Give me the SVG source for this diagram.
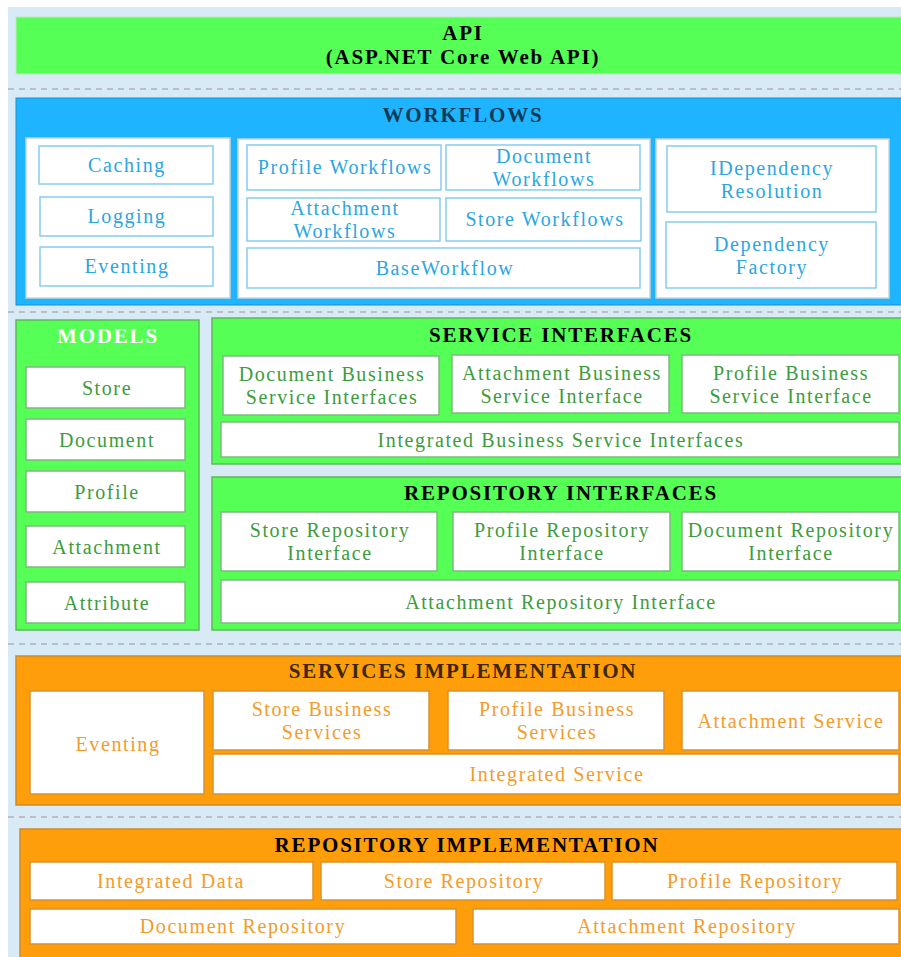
<svg xmlns="http://www.w3.org/2000/svg" width="901" height="957" viewBox="0 0 901 957">
<style>
.t{font-family:"Liberation Serif","Times New Roman",serif;font-size:20px;letter-spacing:1.6px;text-anchor:middle}
.h{font-family:"Liberation Serif","Times New Roman",serif;font-size:21px;font-weight:bold;letter-spacing:1.8px;text-anchor:middle}
.grn{fill:#55ff55;stroke:#5cb85c;stroke-width:1.5}
.blu{fill:#1fb4ff;stroke:#1a8fd0;stroke-width:1}
.org{fill:#ff9e0b;stroke:#d08a2a;stroke-width:1.5}
.panel{fill:#ffffff;stroke:#c5d3dc;stroke-width:1.5}
.bbox{fill:#ffffff;stroke:#86cdf0;stroke-width:1.5}
.gbox{fill:#ffffff;stroke:#7fb87f;stroke-width:1.5}
.obox{fill:#ffffff;stroke:#d9922e;stroke-width:1.5}
.bt{fill:#2aa6e2}
.gt{fill:#3c9c3c}
.ot{fill:#f49b2a}
.sep{stroke:#b9bfc4;stroke-width:2;stroke-dasharray:6 5;fill:none}
</style>
<rect x="0" y="0" width="901" height="957" fill="#ffffff"/>
<rect x="8" y="7" width="893" height="950" fill="#d8eaf6"/>
<g id="separators">
<line class="sep" x1="8" y1="89" x2="901" y2="89"/>
<line class="sep" x1="8" y1="312" x2="901" y2="312"/>
<line class="sep" x1="8" y1="644" x2="901" y2="644"/>
<line class="sep" x1="8" y1="817" x2="901" y2="817"/>
</g>
<g id="api">
<rect x="16" y="17" width="886" height="57" fill="#55ff55" stroke="#bfe8bf" stroke-width="1"/>
<text class="h" x="463" y="40" fill="#000">API</text>
<text class="h" x="463" y="64" fill="#000">(ASP.NET Core Web API)</text>
</g>
<g id="workflows">
<rect class="blu" x="16" y="98" width="886" height="207"/>
<text class="h" x="463" y="122" fill="#0d3a56">WORKFLOWS</text>
<rect class="panel" x="26" y="138" width="204" height="160"/>
<rect class="panel" x="238" y="139" width="412" height="159"/>
<rect class="panel" x="656" y="139" width="233" height="159"/>
<g id="caching"><rect class="bbox" x="39" y="146" width="174" height="38"/><text class="t bt" x="127" y="172">Caching</text></g>
<g id="logging"><rect class="bbox" x="40" y="197" width="173" height="39"/><text class="t bt" x="127" y="223">Logging</text></g>
<g id="eventing-wf"><rect class="bbox" x="40" y="247" width="173" height="39"/><text class="t bt" x="127" y="273">Eventing</text></g>
<g id="profile-workflows"><rect class="bbox" x="247" y="145" width="194" height="45"/><text class="t bt" x="345" y="174">Profile Workflows</text></g>
<g id="document-workflows"><rect class="bbox" x="446" y="145" width="194" height="45"/><text class="t bt" x="544" y="163">Document</text><text class="t bt" x="544" y="186">Workflows</text></g>
<g id="attachment-workflows"><rect class="bbox" x="247" y="198" width="193" height="43"/><text class="t bt" x="345" y="215">Attachment</text><text class="t bt" x="345" y="238">Workflows</text></g>
<g id="store-workflows"><rect class="bbox" x="446" y="198" width="195" height="43"/><text class="t bt" x="545" y="226">Store Workflows</text></g>
<g id="baseworkflow"><rect class="bbox" x="247" y="248" width="393" height="40"/><text class="t bt" x="445" y="275">BaseWorkflow</text></g>
<g id="idependency-resolution"><rect class="bbox" x="667" y="146" width="209" height="66"/><text class="t bt" x="772" y="175">IDependency</text><text class="t bt" x="772" y="198">Resolution</text></g>
<g id="dependency-factory"><rect class="bbox" x="666" y="222" width="210" height="66"/><text class="t bt" x="772" y="251">Dependency</text><text class="t bt" x="772" y="274">Factory</text></g>
</g>
<g id="models">
<rect class="grn" x="16" y="320" width="183" height="310"/>
<text class="h" x="108" y="343" fill="#ffffff">MODELS</text>
<g id="m-store"><rect class="gbox" x="26" y="367" width="159" height="41"/><text class="t gt" x="107" y="395">Store</text></g>
<g id="m-document"><rect class="gbox" x="26" y="419" width="159" height="41"/><text class="t gt" x="107" y="447">Document</text></g>
<g id="m-profile"><rect class="gbox" x="26" y="471" width="159" height="41"/><text class="t gt" x="107" y="499">Profile</text></g>
<g id="m-attachment"><rect class="gbox" x="26" y="526" width="159" height="41"/><text class="t gt" x="107" y="554">Attachment</text></g>
<g id="m-attribute"><rect class="gbox" x="26" y="582" width="159" height="41"/><text class="t gt" x="107" y="610">Attribute</text></g>
</g>
<g id="service-interfaces">
<rect class="grn" x="212" y="318" width="690" height="146"/>
<text class="h" x="561" y="342" fill="#000">SERVICE INTERFACES</text>
<g id="si-document"><rect class="gbox" x="223" y="356" width="216" height="59"/><text class="t gt" x="332" y="381">Document Business</text><text class="t gt" x="332" y="404">Service Interfaces</text></g>
<g id="si-attachment"><rect class="gbox" x="452" y="355" width="217" height="58"/><text class="t gt" x="562" y="380">Attachment Business</text><text class="t gt" x="562" y="403">Service Interface</text></g>
<g id="si-profile"><rect class="gbox" x="682" y="355" width="217" height="58"/><text class="t gt" x="791" y="380">Profile Business</text><text class="t gt" x="791" y="403">Service Interface</text></g>
<g id="si-integrated"><rect class="gbox" x="221" y="422" width="678" height="35"/><text class="t gt" x="561" y="447">Integrated Business Service Interfaces</text></g>
</g>
<g id="repository-interfaces">
<rect class="grn" x="212" y="477" width="690" height="153"/>
<text class="h" x="561" y="500" fill="#000">REPOSITORY INTERFACES</text>
<g id="ri-store"><rect class="gbox" x="221" y="512" width="216" height="59"/><text class="t gt" x="330" y="537">Store Repository</text><text class="t gt" x="330" y="560">Interface</text></g>
<g id="ri-profile"><rect class="gbox" x="453" y="512" width="217" height="59"/><text class="t gt" x="562" y="537">Profile Repository</text><text class="t gt" x="562" y="560">Interface</text></g>
<g id="ri-document"><rect class="gbox" x="682" y="512" width="217" height="59"/><text class="t gt" x="791" y="537">Document Repository</text><text class="t gt" x="791" y="560">Interface</text></g>
<g id="ri-attachment"><rect class="gbox" x="221" y="580" width="678" height="43"/><text class="t gt" x="561" y="609">Attachment Repository Interface</text></g>
</g>
<g id="services-implementation">
<rect class="org" x="16" y="656" width="886" height="149"/>
<text class="h" x="463" y="678" fill="#3d2600">SERVICES IMPLEMENTATION</text>
<g id="s-eventing"><rect class="obox" x="30" y="691" width="174" height="103"/><text class="t ot" x="118" y="751">Eventing</text></g>
<g id="s-store"><rect class="obox" x="213" y="691" width="216" height="59"/><text class="t ot" x="322" y="716">Store Business</text><text class="t ot" x="322" y="739">Services</text></g>
<g id="s-profile"><rect class="obox" x="448" y="691" width="216" height="59"/><text class="t ot" x="557" y="716">Profile Business</text><text class="t ot" x="557" y="739">Services</text></g>
<g id="s-attachment"><rect class="obox" x="682" y="691" width="217" height="59"/><text class="t ot" x="791" y="728">Attachment Service</text></g>
<g id="s-integrated"><rect class="obox" x="213" y="754" width="686" height="40"/><text class="t ot" x="557" y="781">Integrated Service</text></g>
</g>
<g id="repository-implementation">
<rect class="org" x="20" y="829" width="882" height="129"/>
<text class="h" x="467" y="852" fill="#000">REPOSITORY IMPLEMENTATION</text>
<g id="r-integrated"><rect class="obox" x="30" y="862" width="283" height="38"/><text class="t ot" x="171" y="888">Integrated Data</text></g>
<g id="r-store"><rect class="obox" x="321" y="862" width="284" height="38"/><text class="t ot" x="464" y="888">Store Repository</text></g>
<g id="r-profile"><rect class="obox" x="612" y="862" width="285" height="38"/><text class="t ot" x="755" y="888">Profile Repository</text></g>
<g id="r-document"><rect class="obox" x="30" y="909" width="426" height="35"/><text class="t ot" x="243" y="933">Document Repository</text></g>
<g id="r-attachment"><rect class="obox" x="473" y="909" width="426" height="35"/><text class="t ot" x="687" y="933">Attachment Repository</text></g>
</g>
<g id="connectors"/>
</svg>
